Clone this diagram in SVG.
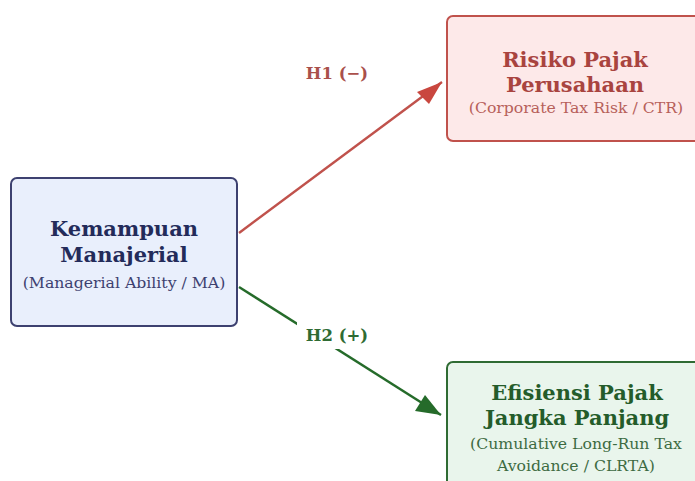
<svg xmlns="http://www.w3.org/2000/svg" width="695" height="481" viewBox="0 0 695 481">
<defs>
<style>
.t{font-family:"DejaVu Serif","Liberation Serif",serif;text-anchor:middle}
.b{font-weight:bold;font-size:21px}
.s{font-size:15.7px}
.l{font-weight:bold;font-size:16.5px}
</style>
</defs>
<rect width="695" height="481" fill="#ffffff"/>
<g id="connectors">
<line x1="239" y1="233" x2="442" y2="82" stroke="#c0524c" stroke-width="2.4"/>
<path d="M417,92 L442,82 L429,104 z" fill="#c9473f"/>
<line x1="239" y1="287" x2="441" y2="415" stroke="#256b2a" stroke-width="2.4"/>
<path d="M415,411 L441,415 L425,395 z" fill="#256b2a"/>
<rect x="297" y="322" width="80" height="27" fill="#ffffff"/>
<text class="t l" x="337" y="79" fill="#a9504b">H1 (−)</text>
<text class="t l" x="337" y="341" fill="#2f6b33">H2 (+)</text>
</g>
<g id="ma">
<rect x="11" y="178" width="226" height="148" rx="6" fill="#e9effc" stroke="#3d4170" stroke-width="2"/>
<text class="t b" x="124" y="236" fill="#232b5a">Kemampuan</text>
<text class="t b" x="124" y="262" fill="#232b5a">Manajerial</text>
<text class="t s" x="124" y="288" fill="#3d4170">(Managerial Ability / MA)</text>
</g>
<g id="ctr">
<rect x="447" y="16" width="262" height="125" rx="6" fill="#fde9e9" stroke="#c0524c" stroke-width="2"/>
<text class="t b" x="575" y="67" fill="#a9443f">Risiko Pajak</text>
<text class="t b" x="575" y="92" fill="#a9443f">Perusahaan</text>
<text class="t s" x="576" y="113" fill="#b7605a">(Corporate Tax Risk / CTR)</text>
</g>
<g id="clrta">
<rect x="447" y="362" width="262" height="140" rx="6" fill="#e9f5ec" stroke="#2f6b33" stroke-width="2"/>
<text class="t b" x="577" y="400" fill="#245c2a">Efisiensi Pajak</text>
<text class="t b" x="577" y="425" fill="#245c2a">Jangka Panjang</text>
<text class="t s" x="576" y="449" fill="#3d6b42">(Cumulative Long-Run Tax</text>
<text class="t s" x="576" y="471" fill="#3d6b42">Avoidance / CLRTA)</text>
</g>
</svg>
